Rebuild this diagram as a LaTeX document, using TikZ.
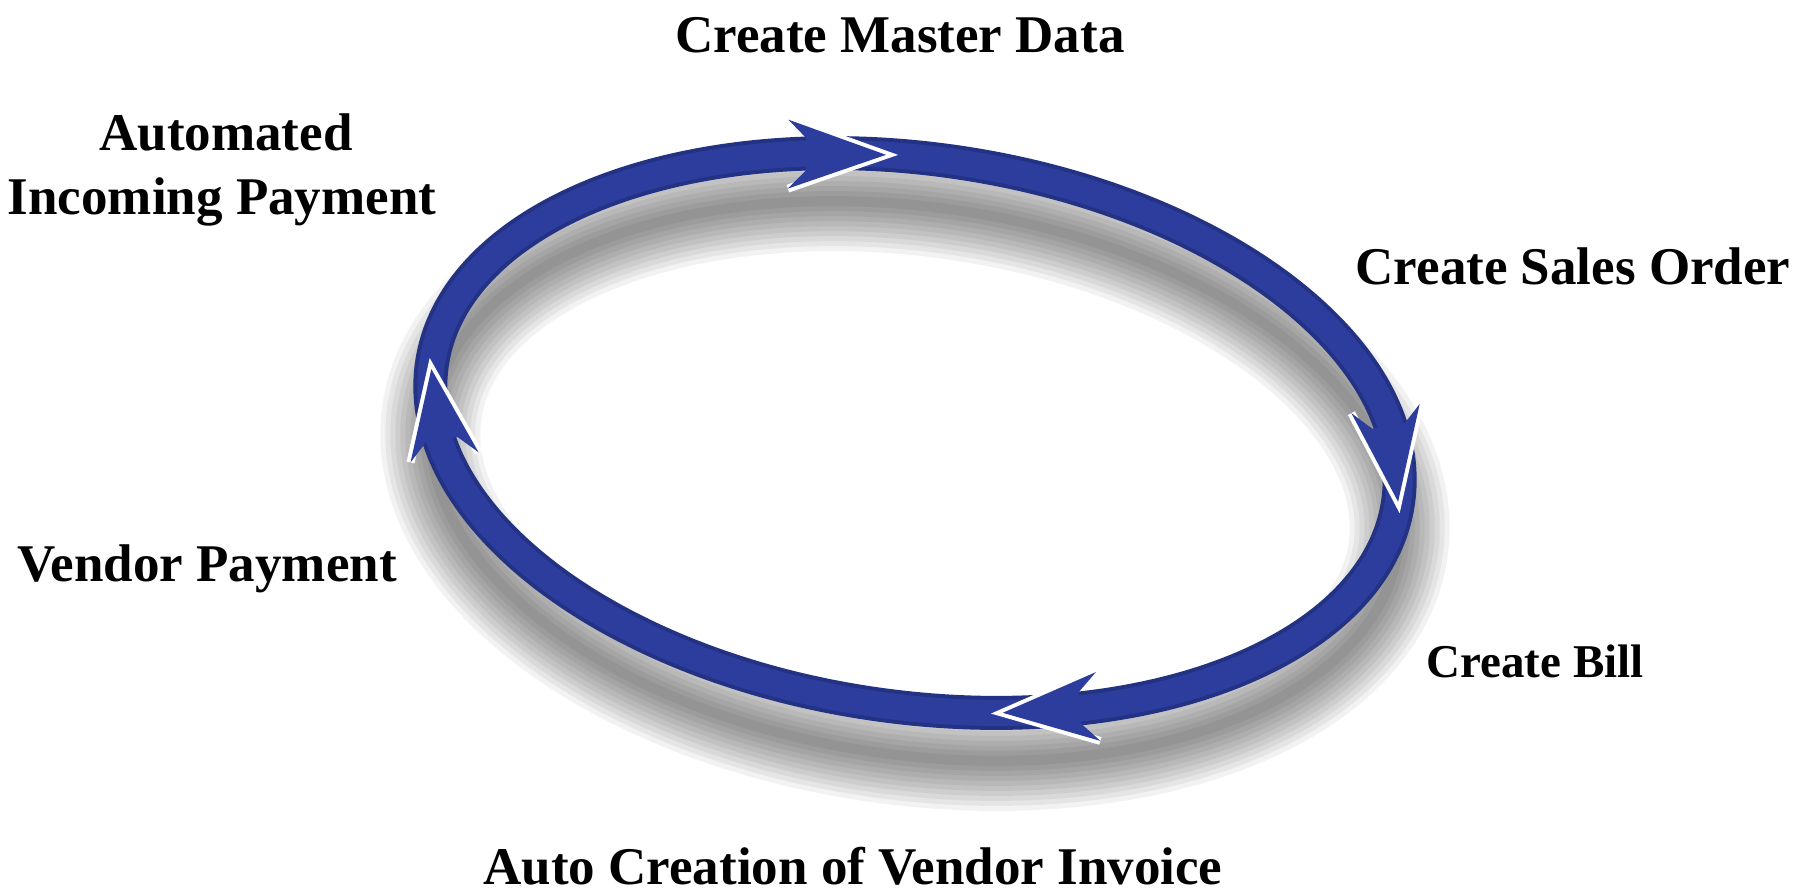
\documentclass[tikz,border=0pt]{standalone}
\usepackage{fontspec}
\setmainfont{Liberation Serif}
\usetikzlibrary{calc}
\definecolor{ringblue}{RGB}{44,61,158}
\definecolor{ringdark}{RGB}{36,50,132}
\newcommand\ringdraw[1]{\draw[#1] (0,0) ellipse [x radius=488, y radius=274];}
\newcommand\headdraw[3]{%
 \coordinate (#1T) at ({488*cos(#2)},{274*sin(#2)});
 \coordinate (#1B) at ({488*cos(#3)},{274*sin(#3)});
 \coordinate (#1N) at ($(#1B)!12pt!(#1T)$);
 \coordinate (#1L) at ($(#1B)!35pt!100:(#1T)$);
 \coordinate (#1R) at ($(#1B)!35pt!-100:(#1T)$);
 \coordinate (#1NL) at ($(#1N)!16pt!90:(#1T)$);
 \coordinate (#1NR) at ($(#1N)!16pt!-90:(#1T)$);
 \draw[headcut] (#1L) -- (#1T) -- (#1R);
 \fill[headfill] (#1T) -- (#1L) -- (#1NL) -- (#1NR) -- (#1R) -- cycle;}
\begin{document}
\begin{tikzpicture}[x=1pt,y=-1pt,
  lbl/.style={font=\fontsize{53}{64}\selectfont\bfseries, anchor=base, inner sep=0pt, text depth=0pt},
  headcut/.style={draw=white, line width=8pt, line join=miter},
  headfill/.style={fill=ringblue}]
\useasboundingbox (0,0) rectangle (1797,892);
\fill[white] (0,0) rectangle (1797,892);
% shadow
\begin{scope}[shift={(915,481)}, rotate=-8.1]
\foreach \w in {100,90,80,70,60,50,40,30,20,10}{\ringdraw{line width=\w pt, draw=black, draw opacity=0.05}}
\end{scope}
% ring and arrow heads
\begin{scope}[shift={(915,433)}, rotate=-8.1]
\ringdraw{line width=34pt, draw=ringdark}
\ringdraw{line width=26pt, draw=ringblue}
\headdraw{top}{262}{251}
\headdraw{rgt}{0}{-18}
\headdraw{bot}{75}{64}
\headdraw{lft}{179}{162}
\end{scope}
% labels
\node[lbl] (master) at (900,52) {Create Master Data};
\node[lbl] (auto1) at (226,150) {Automated};
\node[lbl] (auto2) at (222,214) {Incoming Payment};
\node[lbl] (sales) at (1573,284) {Create Sales Order};
\node[lbl] (vendor) at (207,581) {Vendor Payment};
\node[lbl, font=\fontsize{47}{56}\selectfont\bfseries] (bill) at (1535,677) {Create Bill};
\node[lbl] (invoice) at (853,884) {Auto Creation of Vendor Invoice};
\end{tikzpicture}
\end{document}
